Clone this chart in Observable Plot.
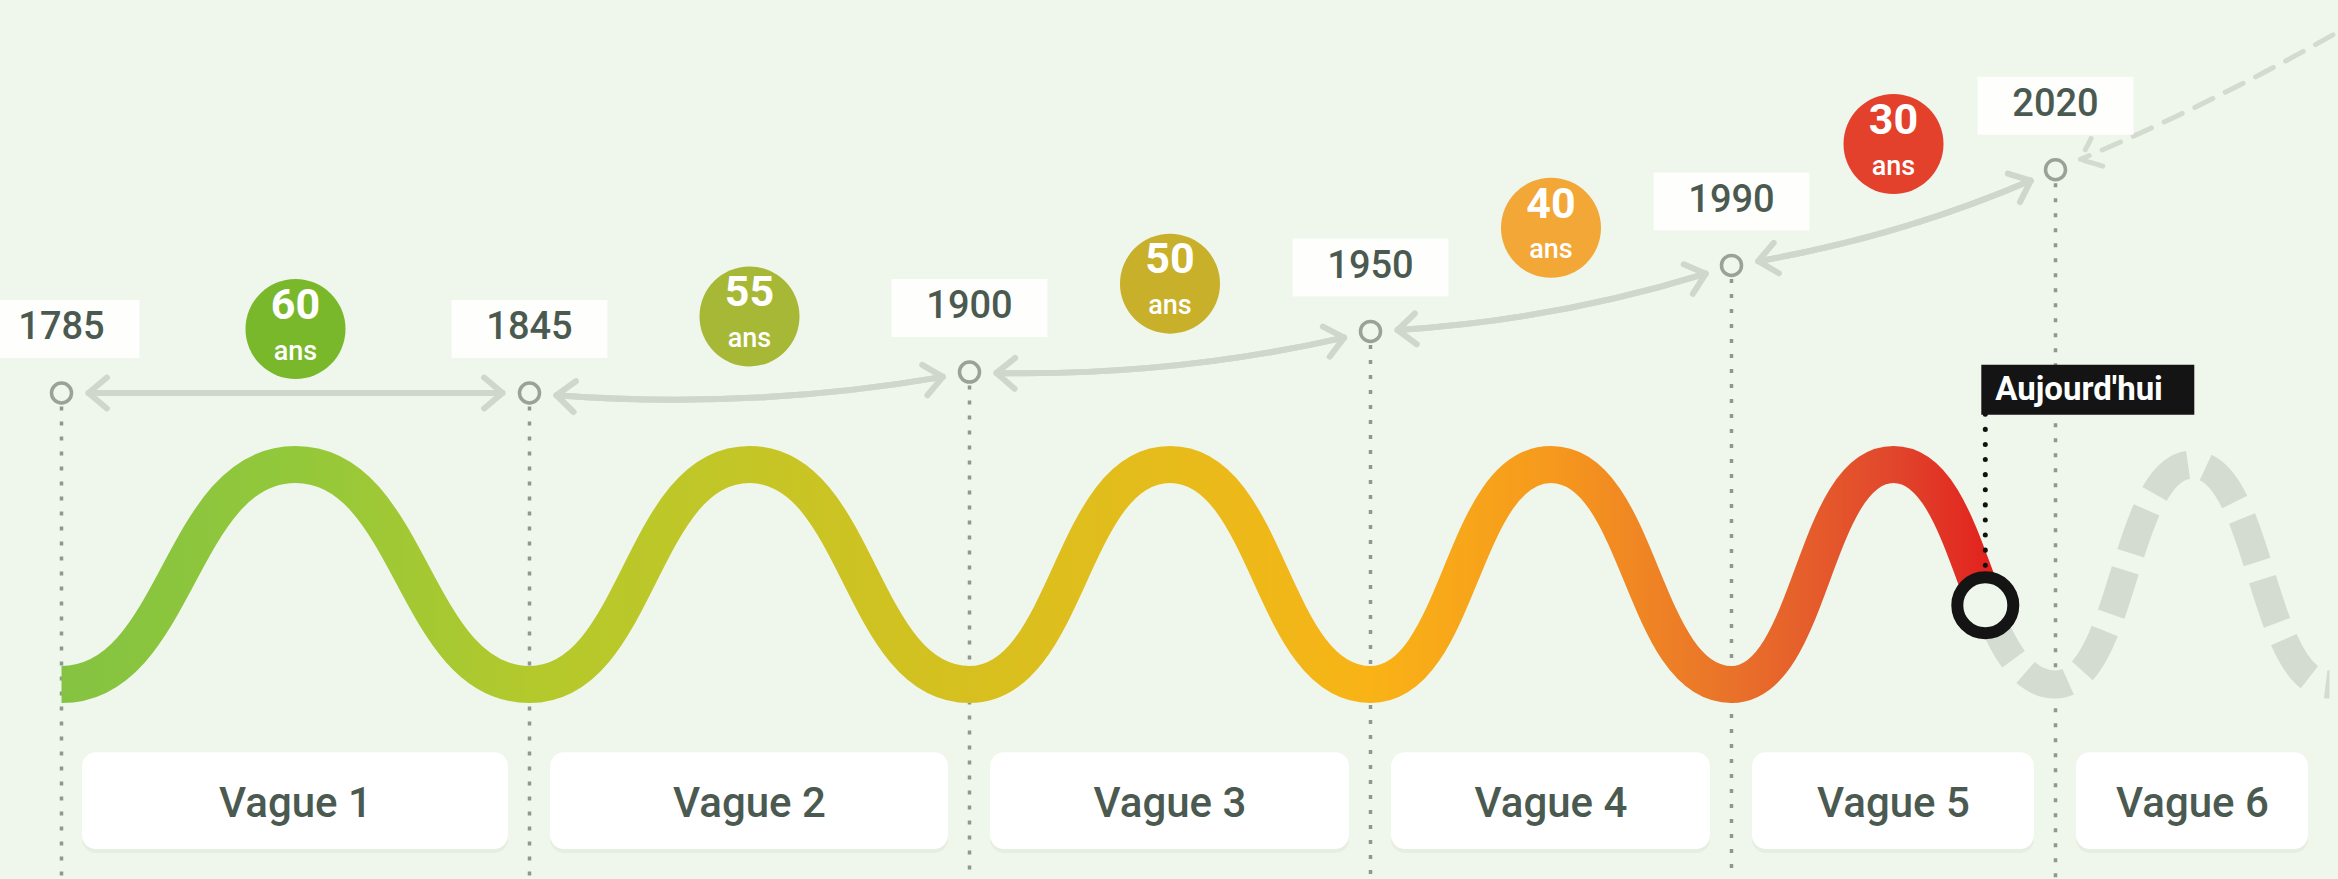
<!DOCTYPE html>
<html lang="fr">
<head>
<meta charset="utf-8">
<script src="https://cdn.jsdelivr.net/npm/d3@7"></script>
<script src="https://cdn.jsdelivr.net/npm/@observablehq/plot@0.6"></script>
<style>
  html, body { margin: 0; padding: 0; background: #eff6ec; }
  #chart svg { display: block; }
</style>
</head>
<body>
<div id="chart"></div>
<script>
// ---------------- DONNÉES ----------------
// Début de chaque vague (repères de la frise)
const annees = [1785, 1845, 1900, 1950, 1990, 2020];
// Hauteur des repères au-dessus de la vague (unités d'amplitude de la vague)
const niveaux = [1.65, 1.65, 1.84, 2.21, 2.81, 3.68];
// Durée de chaque vague (ans)
const durees = [60, 55, 50, 40, 30];
const etiquettesVagues = ["Vague 1", "Vague 2", "Vague 3", "Vague 4", "Vague 5", "Vague 6"];
// Fin estimée de la vague 6 (pointillés)
const finVague6 = 2045;
// Aujourd'hui
const anneeAujourdhui = 2013.5;
const niveauAujourdhui = -0.28;
const texteAujourdhui = "Aujourd'hui";
// Prolongement vers le futur (flèche pointillée)
const futur = {annee: 2048, niveau: 5.06};

// ---------------- STYLES ----------------
const couleursBadges = ["#79b82b", "#a7b736", "#c8b02a", "#f2a737", "#e4412d"];
const degrade = [
  [1785, "#84c341"], [1815, "#93c83a"], [1845, "#b3c92c"], [1872, "#c4c626"],
  [1900, "#d6c01f"], [1925, "#e6bc1b"], [1950, "#f9b316"], [1970, "#f6991d"],
  [1990, "#e9722a"], [2005, "#e1462c"], [2014, "#e2221e"], [2020, "#e2221e"]
];
const FOND = "#eff6ec";
const GRIS_TEXTE = "#4b5a50";
const POLICE = "Roboto, 'DejaVu Sans', sans-serif";

// ---------------- MISE EN PAGE DES ÉCHELLES ----------------
const X_DOMAIN = [...annees, finVague6];
const X_RANGE = [61, 529, 969, 1370, 1731, 2055, 2329];
const Y_DOMAIN = [-1, 1];
const Y_RANGE = [684, 464];
const CREUX = -1, CRETE = 1;
const BOITE_HAUT = -1.62, BOITE_BAS = -2.5, NIVEAU_VAGUE = -2.08;
const NIVEAU_ETIQUETTE_AUJ = 1.68;

// ---------------- TABLES DÉRIVÉES ----------------
const fins = [...annees.slice(1), finVague6];
const cycles = etiquettesVagues.map((nom, i) => ({
  nom, debut: annees[i], fin: fins[i], milieu: (annees[i] + fins[i]) / 2
}));
const reperes = annees.map((a, i) => ({annee: a, niveau: niveaux[i], label: String(a)}));
const intervalles = durees.map((d, i) => ({
  duree: d, debut: annees[i], fin: annees[i + 1],
  n1: niveaux[i], n2: niveaux[i + 1],
  milieu: (annees[i] + annees[i + 1]) / 2,
  niveauBadge: (niveaux[i] + niveaux[i + 1]) / 2 + 0.1 * (niveaux[i + 1] - niveaux[i]),
  couleur: couleursBadges[i]
}));
const vagueReelle = [];
for (let i = 0; i < 5; i++) {
  vagueReelle.push({x: cycles[i].debut, y: CREUX}, {x: cycles[i].milieu, y: CRETE});
}
vagueReelle.push({x: annees[5], y: CREUX});
const vagueFuture = [
  {x: cycles[4].milieu, y: CRETE}, {x: cycles[5].debut, y: CREUX},
  {x: cycles[5].milieu, y: CRETE}, {x: cycles[5].fin, y: CREUX}
];
const aujourdhui = [{annee: anneeAujourdhui, niveau: niveauAujourdhui, label: texteAujourdhui}];

// symboles personnalisés
const boiteAnnee = {draw(ctx) { ctx.rect(-78, -29, 156, 58); }};
const boiteAuj = {draw(ctx) { ctx.rect(-4, -25, 213, 50); }};

const fleche = {stroke: "#cfd7cc", strokeWidth: 6, headAngle: 80, headLength: 6, inset: 27};

const plot = Plot.plot({
  width: 2338,
  height: 879,
  margin: 0,
  style: {background: FOND, fontFamily: POLICE},
  x: {type: "linear", domain: X_DOMAIN, range: X_RANGE, axis: null},
  y: {type: "linear", domain: Y_DOMAIN, range: Y_RANGE, axis: null},
  color: {type: "identity"},
  marks: [
    // boîtes "Vague n"
    Plot.rect(cycles, {x1: "debut", x2: "fin", y1: BOITE_HAUT, y2: BOITE_BAS,
      insetLeft: 21, insetRight: 21, rx: 14, fill: "#dfe9db", fillOpacity: 0.6, dy: 4}),
    Plot.rect(cycles, {x1: "debut", x2: "fin", y1: BOITE_HAUT, y2: BOITE_BAS,
      insetLeft: 21, insetRight: 21, rx: 14, fill: "#ffffff"}),
    Plot.text(cycles, {x: "milieu", y: NIVEAU_VAGUE, text: "nom", fontSize: 42,
      fontWeight: 500, fill: GRIS_TEXTE, fontFamily: POLICE}),
    // lignes pointillées verticales
    Plot.ruleX(reperes, {x: "annee", y1: "niveau", y2: -3.3, insetTop: 14,
      stroke: "#8f988f", strokeWidth: 3.5, strokeDasharray: "4,11"}),
    // vague future (grise, tiretée)
    Plot.line(vagueFuture, {x: "x", y: "y", curve: "bump-x", stroke: "#d4dbd1",
      strokeWidth: 28, strokeDasharray: "46,18", strokeLinecap: "butt"}),
    // vague réelle (dégradé)
    Plot.line(vagueReelle, {x: "x", y: "y", curve: "bump-x", stroke: "url(#vagueGrad)",
      strokeWidth: 37, strokeLinecap: "butt", strokeLinejoin: "round"}),
    // flèches entre repères
    Plot.arrow(intervalles.slice(0, 1), {x1: "debut", y1: "n1", x2: "fin", y2: "n2", ...fleche}),
    Plot.arrow(intervalles.slice(0, 1), {x1: "fin", y1: "n2", x2: "debut", y2: "n1", ...fleche}),
    Plot.arrow(intervalles.slice(1), {x1: "debut", y1: "n1", x2: "fin", y2: "n2", bend: -8, ...fleche}),
    Plot.arrow(intervalles.slice(1), {x1: "fin", y1: "n2", x2: "debut", y2: "n1", bend: 8, ...fleche}),
    // flèche vers le futur
    Plot.arrow([futur], {x1: "annee", y1: "niveau", x2: () => annees[5], y2: () => niveaux[5],
      bend: 4, stroke: "#d3dad0", strokeWidth: 5, strokeDasharray: "20,14",
      headAngle: 80, headLength: 7, insetEnd: 27}),
    // repères
    Plot.dot(reperes, {x: "annee", y: "niveau", r: 10, fill: FOND, stroke: "#99a198", strokeWidth: 3.5}),
    // étiquettes d'années
    Plot.dot(reperes, {x: "annee", y: "niveau", dy: -64, symbol: boiteAnnee, r: 5,
      fill: "#ffffff", fillOpacity: 0.9, stroke: "none"}),
    Plot.text(reperes, {x: "annee", y: "niveau", dy: -66, text: "label", fontSize: 38,
      fontWeight: 500, fill: GRIS_TEXTE, fontFamily: POLICE}),
    // badges de durée
    Plot.dot(intervalles, {x: "milieu", y: "niveauBadge", dy: -64, r: 50, fill: "couleur", stroke: "none"}),
    Plot.text(intervalles, {x: "milieu", y: "niveauBadge", dy: -88, text: d => String(d.duree),
      fontSize: 43, fontWeight: 700, fill: "#ffffff", fontFamily: POLICE}),
    Plot.text(intervalles, {x: "milieu", y: "niveauBadge", dy: -42, text: () => "ans",
      fontSize: 27, fontWeight: 500, fill: "#ffffff", fontFamily: POLICE}),
    // aujourd'hui
    Plot.ruleX(aujourdhui, {x: "annee", y1: NIVEAU_ETIQUETTE_AUJ, y2: "niveau", insetTop: 25, insetBottom: 34,
      stroke: "#111111", strokeWidth: 5, strokeDasharray: "0.1,15", strokeLinecap: "round"}),
    Plot.dot(aujourdhui, {x: "annee", y: NIVEAU_ETIQUETTE_AUJ, symbol: boiteAuj, r: 5, fill: "#141414", stroke: "none"}),
    Plot.text(aujourdhui, {x: "annee", y: NIVEAU_ETIQUETTE_AUJ, dx: 10, text: "label", textAnchor: "start",
      fontSize: 33, fontWeight: 700, fill: "#ffffff", fontFamily: POLICE}),
    Plot.dot(aujourdhui, {x: "annee", y: "niveau", r: 28, fill: FOND, stroke: "#141414", strokeWidth: 12})
  ]
});

// ---- dégradé de la vague et coupe à "aujourd'hui" (mêmes échelles que le graphique) ----
const xs = d3.scaleLinear().domain(X_DOMAIN).range(X_RANGE);
const ys = d3.scaleLinear().domain(Y_DOMAIN).range(Y_RANGE);
const gx1 = xs(annees[0]), gx2 = xs(annees[5]);
const defs = d3.create("svg:defs");
const grad = defs.append("linearGradient").attr("id", "vagueGrad")
  .attr("gradientUnits", "userSpaceOnUse")
  .attr("x1", gx1).attr("x2", gx2).attr("y1", 0).attr("y2", 0);
for (const [an, c] of degrade) {
  grad.append("stop").attr("offset", (xs(an) - gx1) / (gx2 - gx1)).attr("stop-color", c);
}
// segment bump-x entre la crête de la vague 5 et le creux de 2020
const p0 = [xs(cycles[4].milieu), ys(CRETE)], p3 = [xs(annees[5]), ys(CREUX)];
const bx = t => p0[0] + (p3[0] - p0[0]) * (1.5 * t - 1.5 * t * t + t * t * t);
const by = t => p0[1] + (p3[1] - p0[1]) * (3 * t * t - 2 * t * t * t);
let lo = 0, hi = 1;
const cible = xs(anneeAujourdhui);
for (let k = 0; k < 50; k++) { const m = (lo + hi) / 2; if (bx(m) < cible) lo = m; else hi = m; }
const t = (lo + hi) / 2;
const C = [bx(t), by(t)];
let T = [(p3[0] - p0[0]) * (1.5 - 3 * t + 3 * t * t), (p3[1] - p0[1]) * (6 * t - 6 * t * t)];
const nT = Math.hypot(T[0], T[1]); T = [T[0] / nT, T[1] / nT];
const N = [T[1], -T[0]]; // perpendiculaire orientée vers le haut-droite
const Q1 = [C[0] + N[0] * 70, C[1] + N[1] * 70];
const Q2 = [C[0] - N[0] * 45, C[1] - N[1] * 45];
const W = 2338, H = 879;
defs.append("clipPath").attr("id", "coupeAujourdhui")
  .append("polygon")
  .attr("points", [[0, 0], [W, 0], [W, Q1[1]], Q1, Q2, [Q2[0], H], [0, H]].map(p => p.join(",")).join(" "));
plot.insertBefore(defs.node(), plot.firstChild);
const vagueEl = plot.querySelector('[stroke="url(#vagueGrad)"]');
if (vagueEl) vagueEl.setAttribute("clip-path", "url(#coupeAujourdhui)");

document.getElementById("chart").appendChild(plot);
</script>
</body>
</html>
